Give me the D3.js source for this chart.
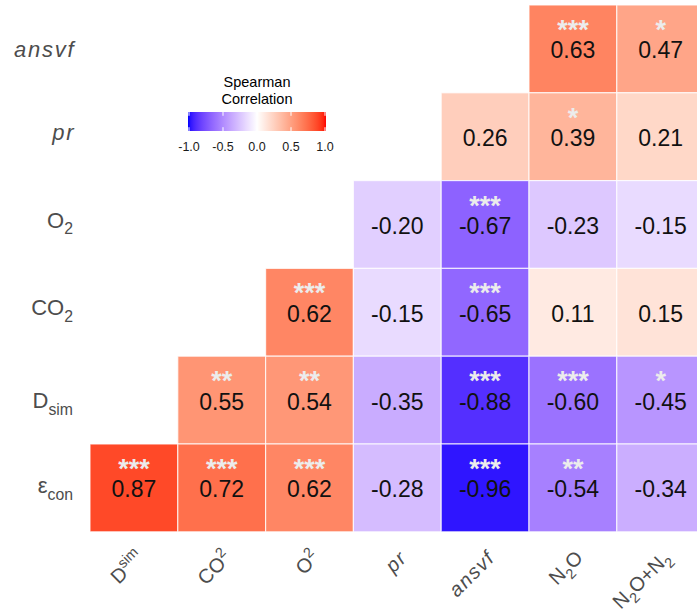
<!DOCTYPE html>
<html>
<head>
<meta charset="utf-8">
<script src="https://cdn.jsdelivr.net/npm/d3@7"></script>
<style>
  html, body { margin: 0; padding: 0; background: #ffffff; overflow: hidden; }
  svg { display: block; font-family: "Liberation Sans", Arial, Helvetica, sans-serif; }
</style>
</head>
<body>
<svg id="chart" width="697" height="612"></svg>
<script>
// Variables on the columns (left to right) and rows (top to bottom)
const colNames = ["Dsim", "CO2", "O2", "pr", "ansvf", "N2O", "N2O+N2"];
const rowNames = ["ansvf", "pr", "O2", "CO2", "Dsim", "econ"];

// Spearman rho per row, one entry per column (null = not shown)
const rhoAnsvf = [null, null, null, null, null, 0.63, 0.47];
const rhoPr    = [null, null, null, null, 0.26, 0.39, 0.21];
const rhoO2    = [null, null, null, -0.20, -0.67, -0.23, -0.15];
const rhoCO2   = [null, null, 0.62, -0.15, -0.65, 0.11, 0.15];
const rhoDsim  = [null, 0.55, 0.54, -0.35, -0.88, -0.60, -0.45];
const rhoEcon  = [0.87, 0.72, 0.62, -0.28, -0.96, -0.54, -0.34];

// Significance marks per row
const sigAnsvf = ["", "", "", "", "", "***", "*"];
const sigPr    = ["", "", "", "", "", "*", ""];
const sigO2    = ["", "", "", "", "***", "", ""];
const sigCO2   = ["", "", "***", "", "***", "", ""];
const sigDsim  = ["", "**", "**", "", "***", "***", "*"];
const sigEcon  = ["***", "***", "***", "", "***", "**", ""];

// Colour bar breaks and title
const legendBreaks = [-1, -0.5, 0, 0.5, 1];
const legendTitle = ["Spearman", "Correlation"];

// Label markup: [text, kind] with kind "" (plain), "sub" or "i" (italic)
const labelParts = {
  "Dsim":   [["D", ""], ["sim", "sub"]],
  "CO2":    [["CO", ""], ["2", "sub"]],
  "O2":     [["O", ""], ["2", "sub"]],
  "pr":     [["pr", "i"]],
  "ansvf":  [["ansvf", "i"]],
  "N2O":    [["N", ""], ["2", "sub"], ["O", ""]],
  "N2O+N2": [["N", ""], ["2", "sub"], ["O+N", ""], ["2", "sub"]],
  "econ":   [["\u03B5", ""], ["con", "sub"]]
};

const rhoRows = [rhoAnsvf, rhoPr, rhoO2, rhoCO2, rhoDsim, rhoEcon];
const sigRows = [sigAnsvf, sigPr, sigO2, sigCO2, sigDsim, sigEcon];

const cells = [];
rowNames.forEach((r, i) => {
  colNames.forEach((c, j) => {
    const v = rhoRows[i][j];
    if (v !== null) cells.push({ row: r, col: c, value: v, sig: sigRows[i][j] });
  });
});

const svg = d3.select("#chart");

// Grid geometry (the last column runs past the right edge)
const cellW = 87.8;
const x = d3.scaleBand().domain(colNames).range([90, 90 + cellW * colNames.length]).padding(0);
const y = d3.scaleBand().domain(rowNames).range([5, 5 + cellW * rowNames.length]).padding(0);

// Diverging fill: blue - white - red, interpolated in Lab
const redRamp = d3.interpolateLab("#ffffff", "#ff0000");
const blueRamp = d3.interpolateLab("#ffffff", "#0000ff");
const fill = v => (v >= 0 ? redRamp(v) : blueRamp(-v));

// Write a label made of plain / subscript / raised / italic pieces
function writeLabel(textSel, parts, fontSize, subMode) {
  const shift = subMode === "raise" ? -0.42 * fontSize : 0.3 * fontSize;
  let cur = 0;
  parts.forEach(([t, kind]) => {
    const target = kind === "sub" ? shift : 0;
    const ts = textSel.append("tspan").text(t).attr("dy", target - cur);
    if (kind === "sub") ts.attr("font-size", (0.72 * fontSize).toFixed(1) + "px");
    if (kind === "i") ts.attr("font-style", "italic");
    cur = target;
  });
}

// Tiles
svg.append("g").selectAll("rect")
  .data(cells)
  .join("rect")
  .attr("x", d => x(d.col))
  .attr("y", d => y(d.row))
  .attr("width", x.bandwidth())
  .attr("height", y.bandwidth())
  .attr("fill", d => fill(d.value))
  .attr("stroke", "#ffffff")
  .attr("stroke-opacity", 0.75)
  .attr("stroke-width", 1.2);

// Coefficient values
svg.append("g").selectAll("text")
  .data(cells)
  .join("text")
  .attr("x", d => x(d.col) + x.bandwidth() / 2)
  .attr("y", d => y(d.row) + y.bandwidth() / 2 + 1.5)
  .attr("text-anchor", "middle")
  .attr("dominant-baseline", "central")
  .attr("font-size", "23px")
  .attr("fill", "#111111")
  .text(d => d.value.toFixed(2));

// Significance stars
svg.append("g").selectAll("text")
  .data(cells.filter(d => d.sig))
  .join("text")
  .attr("x", d => x(d.col) + x.bandwidth() / 2)
  .attr("y", d => y(d.row) + y.bandwidth() / 2 - 10)
  .attr("text-anchor", "middle")
  .attr("font-size", "27px")
  .attr("font-weight", "bold")
  .attr("fill", "#ececec")
  .text(d => d.sig);

// Row labels (vertical baseline offsets follow each label's ink extent)
const rowBaseline = { ansvf: 8, pr: 3.5, O2: 3, CO2: 3, Dsim: 8, econ: 5 };
const yAxis = svg.append("g").attr("fill", "#4d4d4d");
rowNames.forEach(r => {
  const italic = labelParts[r].some(p => p[1] === "i");
  const t = yAxis.append("text")
    .attr("x", italic ? 75.5 : 73)
    .attr("y", y(r) + y.bandwidth() / 2 + rowBaseline[r])
    .attr("text-anchor", "end")
    .attr("font-size", "22px")
    .attr("letter-spacing", italic ? "1.8px" : null);
  writeLabel(t, labelParts[r], 22, "sub");
});

// Column labels, rotated 45 degrees
const raisedOnX = new Set(["Dsim", "CO2", "O2"]);
const xAxis = svg.append("g").attr("fill", "#4d4d4d");
colNames.forEach(c => {
  const cx = x(c) + x.bandwidth() / 2;
  const italic = labelParts[c].some(p => p[1] === "i");
  const t = xAxis.append("text")
    .attr("transform", `translate(${cx + 11},${559}) rotate(-45)`)
    .attr("text-anchor", "end")
    .attr("font-size", "20px")
    .attr("letter-spacing", italic ? "1.5px" : null);
  writeLabel(t, labelParts[c], 20, raisedOnX.has(c) ? "raise" : "sub");
});

// Colour bar legend
const lx = d3.scaleLinear().domain([-1, 1]).range([189, 325]);
const barY = 112, barH = 19;
const defs = svg.append("defs");
const grad = defs.append("linearGradient").attr("id", "rhoGrad")
  .attr("x1", "0%").attr("x2", "100%").attr("y1", "0%").attr("y2", "0%");
d3.range(0, 1.0001, 0.02).forEach(p => {
  grad.append("stop").attr("offset", (p * 100) + "%").attr("stop-color", fill(-1 + 2 * p));
});
const leg = svg.append("g");
leg.append("rect")
  .attr("x", lx(-1) - 1).attr("y", barY)
  .attr("width", lx(1) - lx(-1) + 2).attr("height", barH)
  .attr("fill", "url(#rhoGrad)");
legendBreaks.forEach(b => {
  leg.append("line").attr("x1", lx(b)).attr("x2", lx(b))
    .attr("y1", barY).attr("y2", barY + barH / 5)
    .attr("stroke", "#ffffff").attr("stroke-width", 1);
  leg.append("line").attr("x1", lx(b)).attr("x2", lx(b))
    .attr("y1", barY + barH - barH / 5).attr("y2", barY + barH)
    .attr("stroke", "#ffffff").attr("stroke-width", 1);
});
leg.selectAll("text.tick")
  .data(legendBreaks)
  .join("text")
  .attr("class", "tick")
  .attr("x", d => lx(d))
  .attr("y", 147)
  .attr("text-anchor", "middle")
  .attr("dominant-baseline", "central")
  .attr("font-size", "12.5px")
  .attr("fill", "#1a1a1a")
  .text(d => d3.format(".1f")(d).replace("\u2212", "-"));
leg.selectAll("text.title")
  .data(legendTitle)
  .join("text")
  .attr("class", "title")
  .attr("x", (lx(-1) + lx(1)) / 2)
  .attr("y", (d, i) => 82 + i * 17)
  .attr("text-anchor", "middle")
  .attr("dominant-baseline", "central")
  .attr("font-size", "14.5px")
  .attr("fill", "#000000")
  .text(d => d);
</script>
</body>
</html>
